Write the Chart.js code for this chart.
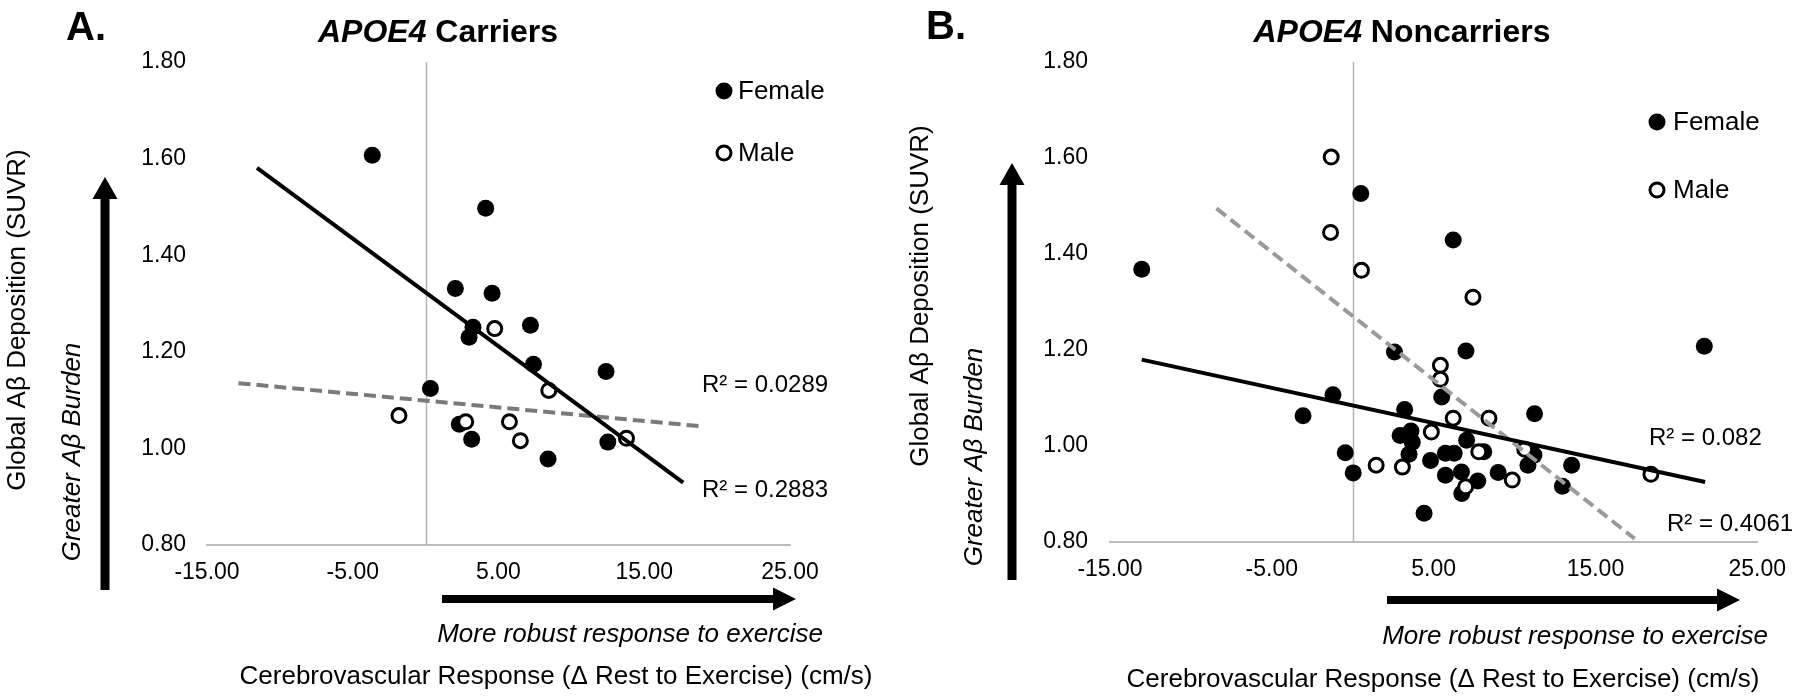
<!DOCTYPE html>
<html>
<head>
    <meta charset="UTF-8">
    <title>Cerebrovascular Response vs Global Aβ Deposition</title>
    <script src="https://cdn.jsdelivr.net/npm/chart.js"></script>
    <style>
        body { margin: 0; background: #fff; }
        #wrap { position: relative; width: 1800px; height: 698px; }
        #wrap canvas { position: absolute; top: 0; }
    </style>
</head>
<body>

<div id="wrap">
    <canvas id="chartA" width="900" height="698" style="left:0"></canvas>
    <canvas id="chartB" width="900" height="698" style="left:900px"></canvas>
</div>

<script>
    // Tick labels shared by both panels
    const xTickValues = [-15, -5, 5, 15, 25];
    const yTickValues = [0.8, 1.0, 1.2, 1.4, 1.6, 1.8];

    // A. APOE4 carriers
    const carrierFemaleX = [-3.66, 4.12, 2.04, 4.56, 3.25, 2.98, 7.19, 7.40, 12.38, 0.33, 2.31, 3.16, 8.40, 12.50];
    const carrierFemaleY = [1.607, 1.497, 1.331, 1.321, 1.251, 1.230, 1.255, 1.174, 1.159, 1.124, 1.050, 1.019, 0.978, 1.013];
    const carrierMaleX = [4.74, 8.45, -1.83, 2.75, 5.75, 6.50, 13.78];
    const carrierMaleY = [1.248, 1.120, 1.068, 1.055, 1.055, 1.016, 1.021];
    // trendline end points
    const carrierFemaleFitX = [-11.57, 17.67];
    const carrierFemaleFitY = [1.581, 0.929];
    const carrierMaleFitX = [-12.84, 18.83];
    const carrierMaleFitY = [1.135, 1.046];

    // B. APOE4 noncarriers
    const noncarrierFemaleX = [-13.04, -3.07, -1.22, -0.46, 0.03, 0.50, 2.58, 2.93, 3.21, 3.60, 3.68, 3.48, 4.41, 4.81, 5.50, 5.73,
        6.27, 5.73, 6.21, 6.72, 6.74, 7.00, 7.04, 7.73, 8.10, 8.99, 10.83, 11.20, 11.24, 12.96, 13.53, 21.73];
    const noncarrierFemaleY = [1.368, 1.063, 1.107, 0.986, 0.944, 1.526, 1.196, 1.022, 1.076, 1.031, 1.008, 0.983, 0.860, 0.970, 1.102, 0.985,
        0.985, 0.939, 1.429, 0.946, 0.901, 1.198, 1.012, 0.927, 0.988, 0.945, 0.960, 0.981, 1.067, 0.916, 0.960, 1.208];
    const noncarrierMaleX = [-1.33, -1.37, 0.54, 1.45, 3.07, 4.86, 5.42, 5.42, 6.21, 7.43, 7.79, 6.98, 8.42, 9.86, 10.63, 18.43];
    const noncarrierMaleY = [1.602, 1.445, 1.366, 0.960, 0.956, 1.029, 1.168, 1.139, 1.058, 1.310, 0.988, 0.915, 1.058, 0.929, 0.993, 0.941];
    const noncarrierFemaleFitX = [-13.04, 21.78];
    const noncarrierFemaleFitY = [1.180, 0.925];
    const noncarrierMaleFitX = [-8.42, 17.42];
    const noncarrierMaleFitY = [1.495, 0.807];

    const FONT = "'Liberation Sans', Arial, sans-serif";
    Chart.defaults.font.family = FONT;
    Chart.defaults.color = '#000';

    // text and arrow placement for each panel (canvas coordinates)
    const DECO = {
        chartA: {
            letter: 'A.', letterX: 66, letterY: 40,
            titleItalic: 'APOE4', titleRest: ' Carriers', titleX: 438, titleY: 42,
            yTitleX: 18, yTitleY: 320, burdenX: 73, burdenY: 452,
            upX: 105, upBottom: 590, upTip: 177,
            rightY: 599, rightStart: 442, rightTip: 796,
            robustRight: 823, robustY: 635,
            xTitleX: 556, xTitleY: 677,
            legendX: 724, legendY: [91, 153], legendTextX: 738,
            r2Female: 'R² = 0.2883', r2FemaleX: 702, r2FemaleY: 490,
            r2Male: 'R² = 0.0289', r2MaleX: 702, r2MaleY: 385
        },
        chartB: {
            letter: 'B.', letterX: 26, letterY: 39,
            titleItalic: 'APOE4', titleRest: ' Noncarriers', titleX: 502, titleY: 42,
            yTitleX: 21, yTitleY: 296, burdenX: 75, burdenY: 457,
            upX: 112, upBottom: 580, upTip: 163,
            rightY: 600, rightStart: 487, rightTip: 840,
            robustRight: 868, robustY: 637,
            xTitleX: 543, xTitleY: 680,
            legendX: 757, legendY: [122, 190], legendTextX: 773,
            r2Female: 'R² = 0.082', r2FemaleX: 749, r2FemaleY: 438,
            r2Male: 'R² = 0.4061', r2MaleX: 767, r2MaleY: 524
        }
    };

    function pts(xs, ys) {
        return xs.map((x, i) => ({ x: x, y: ys[i] }));
    }

    function upArrow(ctx, x, yBottom, yTip) {
        const shaft = 9, headW = 25, headL = 22;
        ctx.fillRect(x - shaft / 2, yTip + headL - 1, shaft, yBottom - yTip - headL + 1);
        ctx.beginPath();
        ctx.moveTo(x, yTip);
        ctx.lineTo(x - headW / 2, yTip + headL);
        ctx.lineTo(x + headW / 2, yTip + headL);
        ctx.closePath();
        ctx.fill();
    }

    function rightArrow(ctx, y, xStart, xTip) {
        const shaft = 8, headH = 23, headL = 23;
        ctx.fillRect(xStart, y - shaft / 2, xTip - xStart - headL + 1, shaft);
        ctx.beginPath();
        ctx.moveTo(xTip, y);
        ctx.lineTo(xTip - headL, y - headH / 2);
        ctx.lineTo(xTip - headL, y + headH / 2);
        ctx.closePath();
        ctx.fill();
    }

    function legendMark(ctx, x, y, ds) {
        ctx.beginPath();
        ctx.arc(x, y, ds.pointRadius, 0, Math.PI * 2);
        ctx.fillStyle = ds.pointBackgroundColor;
        ctx.fill();
        if (ds.pointBorderWidth) {
            ctx.lineWidth = ds.pointBorderWidth;
            ctx.strokeStyle = ds.pointBorderColor;
            ctx.stroke();
        }
    }

    const decorations = {
        id: 'decorations',
        beforeDatasetsDraw(chart) {
            // Excel draws the vertical axis where x = 0
            const { ctx, chartArea, scales } = chart;
            const x0 = Math.round(scales.x.getPixelForValue(0)) + 0.5;
            ctx.save();
            ctx.strokeStyle = '#b4b4b4';
            ctx.lineWidth = 1.5;
            ctx.beginPath();
            ctx.moveTo(x0, chartArea.top);
            ctx.lineTo(x0, chartArea.bottom);
            ctx.stroke();
            ctx.restore();
        },
        afterDraw(chart) {
            const d = DECO[chart.canvas.id];
            const ctx = chart.ctx;
            ctx.save();
            ctx.fillStyle = '#000';

            // panel letter
            ctx.textAlign = 'left';
            ctx.textBaseline = 'alphabetic';
            ctx.font = 'bold 40px ' + FONT;
            ctx.fillText(d.letter, d.letterX, d.letterY);

            // title, gene name in italics
            ctx.font = 'italic bold 32px ' + FONT;
            const w1 = ctx.measureText(d.titleItalic).width;
            ctx.font = 'bold 32px ' + FONT;
            const w2 = ctx.measureText(d.titleRest).width;
            const tx = d.titleX - (w1 + w2) / 2;
            ctx.font = 'italic bold 32px ' + FONT;
            ctx.fillText(d.titleItalic, tx, d.titleY);
            ctx.font = 'bold 32px ' + FONT;
            ctx.fillText(d.titleRest, tx + w1, d.titleY);

            // rotated y texts
            ctx.textAlign = 'center';
            ctx.textBaseline = 'middle';
            ctx.save();
            ctx.translate(d.yTitleX, d.yTitleY);
            ctx.rotate(-Math.PI / 2);
            ctx.font = '26px ' + FONT;
            ctx.fillText('Global Aβ Deposition (SUVR)', 0, 0);
            ctx.restore();
            ctx.save();
            ctx.translate(d.burdenX, d.burdenY);
            ctx.rotate(-Math.PI / 2);
            ctx.font = 'italic 26px ' + FONT;
            ctx.fillText('Greater Aβ Burden', 0, 0);
            ctx.restore();

            // arrows
            upArrow(ctx, d.upX, d.upBottom, d.upTip);
            rightArrow(ctx, d.rightY, d.rightStart, d.rightTip);

            // x texts
            ctx.font = 'italic 26px ' + FONT;
            ctx.textAlign = 'right';
            ctx.fillText('More robust response to exercise', d.robustRight, d.robustY);
            ctx.font = '26px ' + FONT;
            ctx.textAlign = 'center';
            ctx.fillText('Cerebrovascular Response (Δ Rest to Exercise) (cm/s)', d.xTitleX, d.xTitleY);

            // legend
            const female = chart.data.datasets.find(ds => ds.label === 'Female');
            const male = chart.data.datasets.find(ds => ds.label === 'Male');
            [female, male].forEach((ds, i) => {
                legendMark(ctx, d.legendX, d.legendY[i], ds);
                ctx.fillStyle = '#000';
                ctx.textAlign = 'left';
                ctx.font = '26px ' + FONT;
                ctx.fillText(ds.label, d.legendTextX, d.legendY[i] + 1);
            });

            // R² labels
            ctx.font = '24px ' + FONT;
            ctx.fillText(d.r2Male, d.r2MaleX, d.r2MaleY);
            ctx.fillText(d.r2Female, d.r2FemaleX, d.r2FemaleY);
            ctx.restore();
        }
    };

    function createChart(id, set) {
        return new Chart(document.getElementById(id), {
            type: 'scatter',
            data: {
                datasets: [
                    {
                        label: 'Female fit',
                        data: pts(set.femaleFitX, set.femaleFitY),
                        showLine: true,
                        borderColor: '#000',
                        borderWidth: 4,
                        pointRadius: 0,
                        order: 0
                    },
                    {
                        label: 'Male fit',
                        data: pts(set.maleFitX, set.maleFitY),
                        showLine: true,
                        borderColor: set.dashColor,
                        borderWidth: 4,
                        borderDash: [12, 6],
                        pointRadius: 0,
                        order: 0
                    },
                    {
                        label: 'Male',
                        data: pts(set.maleX, set.maleY),
                        pointRadius: 7,
                        pointBackgroundColor: '#fff',
                        pointBorderColor: '#000',
                        pointBorderWidth: 3,
                        order: 1
                    },
                    {
                        label: 'Female',
                        data: pts(set.femaleX, set.femaleY),
                        pointRadius: 8.5,
                        pointBackgroundColor: '#000',
                        pointBorderColor: '#000',
                        pointBorderWidth: 0,
                        order: 2
                    }
                ]
            },
            options: {
                responsive: false,
                animation: false,
                events: [],
                layout: { padding: { top: set.top, right: set.right, left: 0, bottom: 0 } },
                plugins: {
                    legend: { display: false },
                    tooltip: { enabled: false }
                },
                scales: {
                    x: {
                        type: 'linear',
                        min: -15,
                        max: 25,
                        afterBuildTicks: s => { s.ticks = xTickValues.map(v => ({ value: v })); },
                        afterFit: s => { s.height = set.xHeight; },
                        grid: { display: false, drawTicks: false },
                        border: { display: true, color: '#bdbdbd', width: 2 },
                        ticks: {
                            padding: 14,
                            autoSkip: false,
                            maxRotation: 0,
                            font: { size: 23 },
                            callback: v => Number(v).toFixed(2)
                        }
                    },
                    y: {
                        type: 'linear',
                        min: 0.8,
                        max: 1.8,
                        afterBuildTicks: s => { s.ticks = yTickValues.map(v => ({ value: v })); },
                        afterFit: s => { s.width = set.yWidth; },
                        grid: { display: false, drawTicks: false },
                        border: { display: false },
                        ticks: {
                            padding: set.yPad,
                            font: { size: 23 },
                            callback: v => Number(v).toFixed(2)
                        }
                    }
                }
            },
            plugins: [decorations]
        });
    }

    createChart('chartA', {
        femaleX: carrierFemaleX, femaleY: carrierFemaleY,
        maleX: carrierMaleX, maleY: carrierMaleY,
        femaleFitX: carrierFemaleFitX, femaleFitY: carrierFemaleFitY,
        maleFitX: carrierMaleFitX, maleFitY: carrierMaleFitY,
        dashColor: '#7a7a7a',
        top: 62, right: 110, yWidth: 207, xHeight: 153, yPad: 21
    });

    createChart('chartB', {
        femaleX: noncarrierFemaleX, femaleY: noncarrierFemaleY,
        maleX: noncarrierMaleX, maleY: noncarrierMaleY,
        femaleFitX: noncarrierFemaleFitX, femaleFitY: noncarrierFemaleFitY,
        maleFitX: noncarrierMaleFitX, maleFitY: noncarrierMaleFitY,
        dashColor: '#9a9a9a',
        top: 62, right: 32, yWidth: 210, xHeight: 156, yPad: 22
    });
</script>

</body>
</html>
